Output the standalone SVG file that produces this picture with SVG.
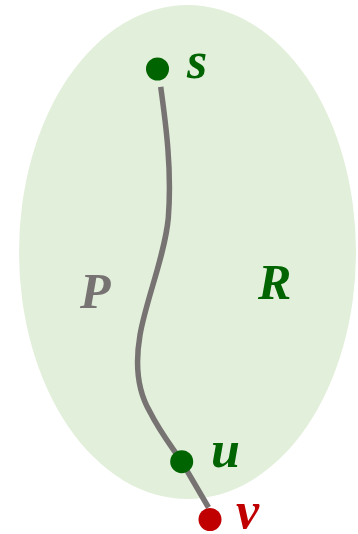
<svg xmlns="http://www.w3.org/2000/svg" width="358" height="534" viewBox="0 0 358 534">
<style>
.lbl{font-family:"Liberation Serif","DejaVu Serif",serif;font-weight:bold;font-style:italic;font-size:50px}
.sm{font-size:52px}
.g{fill:#006400}
.r{fill:#c00000}
.p{fill:#777373}
.edge{fill:none;stroke:#777373;stroke-width:5.5;stroke-linecap:butt}
</style>
<g id="region-R">
<ellipse cx="187.5" cy="252" rx="168.5" ry="247" fill="#e2efda"/>
<text class="lbl g" x="258" y="299">R</text>
</g>
<g id="connectors">
<path class="edge" d="M160.7,86.9 C166,125 172,170 168.3,218 C165,255 146,300 140,335 C134,370 140,395 150,412 C160,432 172,447 181.7,461.7 L208.5,507.5"/>
</g>
<g id="path-P">
<text class="lbl p" x="80" y="308">P</text>
</g>
<g id="node-s">
<circle cx="157.5" cy="69" r="11.5" class="g"/>
<text class="lbl sm g" x="187" y="78">s</text>
</g>
<g id="node-u">
<circle cx="181.7" cy="461.7" r="11.5" class="g"/>
<text class="lbl sm g" x="211" y="467">u</text>
</g>
<g id="node-v">
<circle cx="210" cy="519.5" r="11.5" class="r"/>
<text class="lbl sm r" x="236" y="528">v</text>
</g>
</svg>
